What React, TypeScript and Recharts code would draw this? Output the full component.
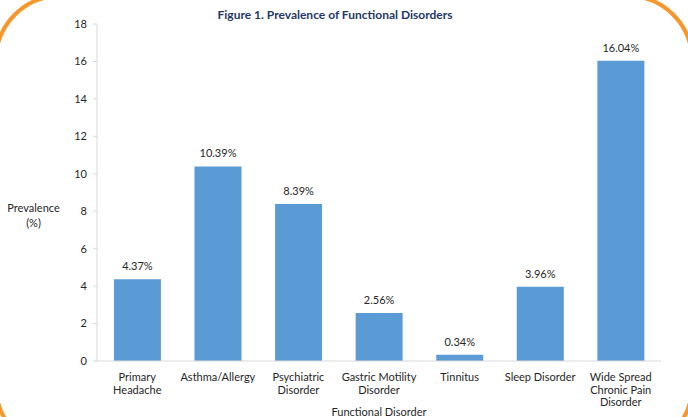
import React from "react";
import { BarChart, Bar, XAxis, YAxis, LabelList } from "recharts";

const categories: string[] = [
  "Primary\nHeadache",
  "Asthma/Allergy",
  "Psychiatric\nDisorder",
  "Gastric Motility\nDisorder",
  "Tinnitus",
  "Sleep Disorder",
  "Wide Spread\nChronic Pain\nDisorder",
];
const prevalence: number[] = [4.37, 10.39, 8.39, 2.56, 0.34, 3.96, 16.04];
const yTicks: number[] = [0, 2, 4, 6, 8, 10, 12, 14, 16, 18];

const data = categories.map((name, i) => ({ name, value: prevalence[i] }));

const FONT = "Lato, 'Noto Sans', sans-serif";
const TEXT = "#262626";

const CategoryTick = (props: any) => {
  const { x, y, payload } = props;
  const lines = String(payload.value).split("\n");
  return (
    <text x={x} y={y} textAnchor="middle" fill={TEXT} fontFamily={FONT} fontSize={11}>
      {lines.map((l, i) => (
        <tspan key={i} x={x} y={y + 12 + i * 12.6}>
          {l}
        </tspan>
      ))}
    </text>
  );
};

export default function App() {
  return (
    <div
      style={{
        position: "fixed",
        left: 0,
        top: 0,
        width: 688,
        height: 417,
        overflow: "hidden",
        background: "#ffffff",
        fontFamily: FONT,
      }}
    >
      <div
        style={{
          position: "absolute",
          left: -6,
          top: -6,
          width: 700,
          height: 458,
          boxSizing: "border-box",
          border: "4px solid #F7962A",
          borderRadius: 66,
        }}
      />
      <div
        style={{
          position: "absolute",
          left: 0,
          width: 670,
          top: 7,
          textAlign: "center",
          fontWeight: "bold",
          fontSize: 12,
          color: "#1F3864",
          lineHeight: "16px",
        }}
      >
        Figure 1. Prevalence of Functional Disorders
      </div>
      <div
        style={{
          position: "absolute",
          left: 0,
          width: 67,
          top: 201,
          textAlign: "center",
          fontSize: 11,
          color: TEXT,
          lineHeight: "14.5px",
        }}
      >
        Prevalence
        <br />
        (%)
      </div>
      <div
        style={{
          position: "absolute",
          left: 97,
          width: 564,
          top: 404,
          textAlign: "center",
          fontSize: 11,
          color: TEXT,
          lineHeight: "16px",
        }}
      >
        Functional Disorder
      </div>
      <div style={{ position: "absolute", left: 0, top: 0 }}>
        <BarChart
          width={688}
          height={417}
          data={data}
          margin={{ top: 24, right: 27, left: 37, bottom: 0 }}
          barCategoryGap="21%"
        >
          <YAxis
            width={60}
            domain={[0, 18]}
            ticks={yTicks}
            interval={0}
            tickSize={4}
            tickMargin={6}
            axisLine={{ stroke: "#d9d9d9" }}
            tickLine={{ stroke: "#d9d9d9" }}
            tick={{ fill: TEXT, fontSize: 11, fontFamily: FONT }}
          />
          <XAxis
            dataKey="name"
            height={56}
            interval={0}
            tickLine={false}
            axisLine={{ stroke: "#d9d9d9" }}
            tick={<CategoryTick />}
          />
          <Bar dataKey="value" fill="#5B9BD5" isAnimationActive={false}>
            <LabelList
              dataKey="value"
              position="top"
              offset={9}
              formatter={(v: any) => `${v}%`}
              fill={TEXT}
              fontSize={11}
              fontFamily={FONT}
            />
          </Bar>
        </BarChart>
      </div>
    </div>
  );
}
